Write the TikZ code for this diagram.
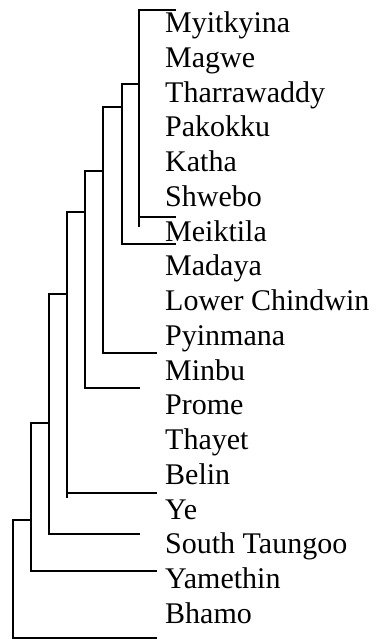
\documentclass[tikz,border=0pt]{standalone}
\usepackage{fontspec}
\setmainfont{Liberation Serif}
\begin{document}
\begin{tikzpicture}[x=1pt,y=-1pt,
  leaf/.style={anchor=base west,inner sep=0pt,font=\fontsize{30}{34}\selectfont},
  branch/.style={line width=2pt,line cap=butt,line join=miter}]
\useasboundingbox (0,0) rectangle (375,639);

% district labels
\node[leaf] (myitkyina)  at (165, 32.7) {Myitkyina};
\node[leaf] (magwe)      at (165, 67.4) {Magwe};
\node[leaf] (tharrawaddy)at (165,102.2) {Tharrawaddy};
\node[leaf] (pakokku)    at (165,136.9) {Pakokku};
\node[leaf] (katha)      at (165,171.7) {Katha};
\node[leaf] (shwebo)     at (165,206.4) {Shwebo};
\node[leaf] (meiktila)   at (165,241.2) {Meiktila};
\node[leaf] (madaya)     at (165,275.9) {Madaya};
\node[leaf] (lowerch)    at (165,310.7) {Lower Chindwin};
\node[leaf] (pyinmana)   at (165,345.4) {Pyinmana};
\node[leaf] (minbu)      at (165,380.2) {Minbu};
\node[leaf] (prome)      at (165,414.9) {Prome};
\node[leaf] (thayet)     at (165,449.7) {Thayet};
\node[leaf] (belin)      at (165,484.4) {Belin};
\node[leaf] (ye)         at (165,519.2) {Ye};
\node[leaf] (staungoo)   at (165,553.9) {South Taungoo};
\node[leaf] (yamethin)   at (165,588.7) {Yamethin};
\node[leaf] (bhamo)      at (165,623.4) {Bhamo};

% branch end points and junctions
\coordinate (a1) at (139,10);    \coordinate (a1e) at (176,10);
\coordinate (a2) at (139,217);   \coordinate (a2e) at (176,217);
\coordinate (a3) at (139,227);
\coordinate (aj) at (139,84);

\coordinate (b1) at (121.7,84);  \coordinate (b2) at (121.7,244);
\coordinate (b2e) at (176,244);  \coordinate (bj) at (121.7,107);

\coordinate (c1) at (103.3,107); \coordinate (c2) at (103.3,353);
\coordinate (c2e) at (157,353);  \coordinate (cj) at (103.3,171);

\coordinate (d1) at (85,171);    \coordinate (d2) at (85,388);
\coordinate (d2e) at (140,388);  \coordinate (dj) at (85,212);

\coordinate (e1) at (67,212);    \coordinate (e2) at (67,493);
\coordinate (e3) at (67,498);    \coordinate (e2e) at (157,493);
\coordinate (ej) at (67,294);

\coordinate (f1) at (49,294);    \coordinate (f2) at (49,534);
\coordinate (f2e) at (140,534);  \coordinate (fj) at (49,423);

\coordinate (g1) at (31,423);    \coordinate (g2) at (31,571);
\coordinate (g2e) at (157,571);  \coordinate (gj) at (31,520);

\coordinate (h1) at (13,520);    \coordinate (h2) at (13,637.5);
\coordinate (h2e) at (157,637.5);

% dendrogram
\draw[branch] (a1e) -- (a1) -- (a3);
\draw[branch] (a2) -- (a2e);
\draw[branch] (aj) -- (b1) -- (b2) -- (b2e);
\draw[branch] (bj) -- (c1) -- (c2) -- (c2e);
\draw[branch] (cj) -- (d1) -- (d2) -- (d2e);
\draw[branch] (dj) -- (e1) -- (e3);
\draw[branch] (e2) -- (e2e);
\draw[branch] (ej) -- (f1) -- (f2) -- (f2e);
\draw[branch] (fj) -- (g1) -- (g2) -- (g2e);
\draw[branch] (gj) -- (h1) -- (h2) -- (h2e);
\end{tikzpicture}
\end{document}
